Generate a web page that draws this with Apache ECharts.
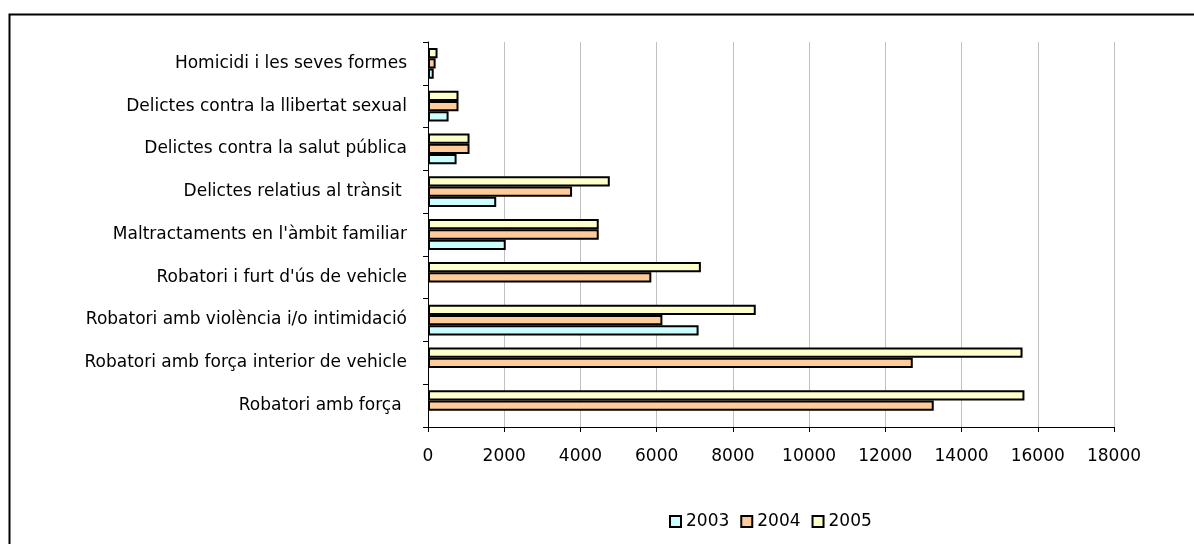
<!DOCTYPE html>
<html>
<head>
<meta charset="utf-8">
<script src="https://cdn.jsdelivr.net/npm/echarts@6/dist/echarts.min.js"></script>
<style>
html,body{margin:0;padding:0;background:#fff;}
#c{width:1194px;height:544px;}
</style>
</head>
<body>
<div id="c"></div>
<script>
// categories listed bottom to top (ECharts category y axis starts at the bottom)
const categories = [
  "Robatori amb força ",
  "Robatori amb força interior de vehicle",
  "Robatori amb violència i/o intimidació",
  "Robatori i furt d'ús de vehicle",
  "Maltractaments en l'àmbit familiar",
  "Delictes relatius al trànsit ",
  "Delictes contra la salut pública",
  "Delictes contra la llibertat sexual",
  "Homicidi i les seves formes"
];
const seriesNames = ["2003", "2004", "2005"];
const values2003 = [null, null, 7100, null, 2040, 1790, 750, 540, 150];
const values2004 = [13270, 12720, 6150, 5860, 4480, 3780, 1090, 800, 200];
const values2005 = [15650, 15600, 8600, 7160, 4480, 4770, 1090, 800, 250];
const xTicks = { min: 0, max: 18000, interval: 2000 };

const colors = ["#CCFFFF", "#FFCC99", "#FFFFCC"];
const font = "DejaVu Sans";

const chart = echarts.init(document.getElementById('c'), null, { renderer: 'canvas' });
const allValues = [values2003, values2004, values2005];
// within a group ECharts places series top-down, so add them last-year first
const order = [2, 1, 0];
chart.setOption({
  animation: false,
  backgroundColor: '#ffffff',
  textStyle: { fontFamily: font },
  graphic: [{
    type: 'rect', left: 7, top: 12, z: -1,
    shape: { width: 1200, height: 600 },
    style: { fill: 'none', stroke: '#000', lineWidth: 2 }
  }],
  grid: { left: 428, right: 80, top: 42, bottom: 117, containLabel: false },
  legend: {
    data: seriesNames,
    left: 664, top: 508,
    icon: 'rect', itemWidth: 11, itemHeight: 11, itemGap: 11,
    textStyle: { fontFamily: font, fontSize: 17, color: '#000' }
  },
  xAxis: {
    type: 'value', min: xTicks.min, max: xTicks.max, interval: xTicks.interval,
    axisLine: { show: true, lineStyle: { color: '#000', width: 1 } },
    axisTick: { show: true, length: 5, lineStyle: { color: '#000' } },
    axisLabel: { fontFamily: font, fontSize: 17, color: '#000', margin: 21, formatter: v => String(v) },
    splitLine: { show: true, lineStyle: { color: '#c0c0c0', width: 1 } }
  },
  yAxis: {
    type: 'category', data: categories,
    axisLine: { show: true, lineStyle: { color: '#000', width: 1 } },
    axisTick: { show: true, length: 5, lineStyle: { color: '#000' } },
    axisLabel: { fontFamily: font, fontSize: 17, color: '#000', margin: 21 },
    splitLine: { show: false }
  },
  series: order.map(i => ({
    name: seriesNames[i], type: 'bar', data: allValues[i],
    barGap: '0%', barCategoryGap: '28%',
    itemStyle: { color: colors[i], borderColor: '#000', borderWidth: 2 }
  }))
});
</script>
</body>
</html>
